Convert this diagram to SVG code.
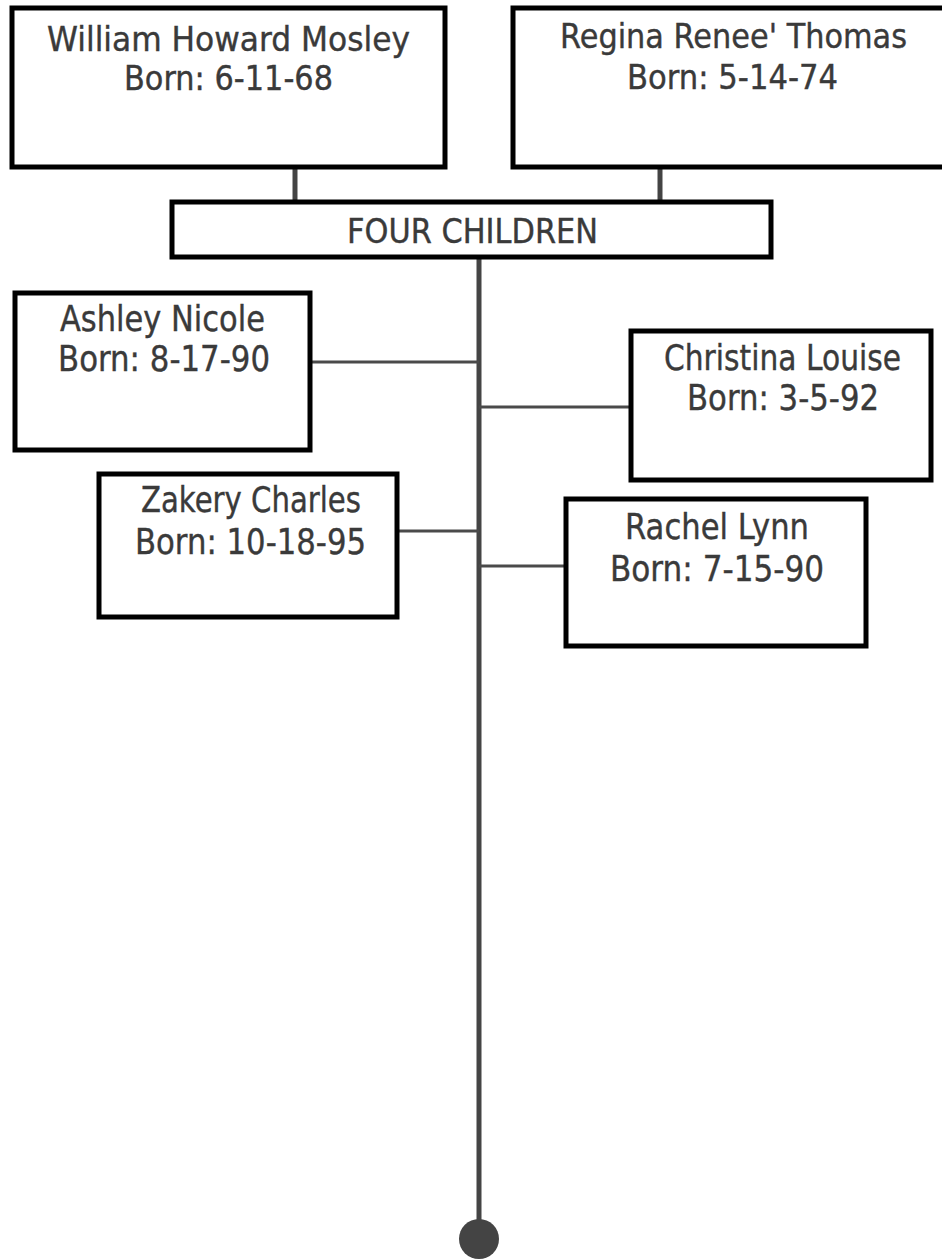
<svg xmlns="http://www.w3.org/2000/svg" width="942" height="1260" viewBox="0 0 942 1260">
  <style>
    .box { fill: #ffffff; stroke: #000000; stroke-width: 5; }
    .lbl { font-family: "DejaVu Sans", "Liberation Sans", sans-serif; font-size: 33px; fill: #3a3a3a; stroke: #3a3a3a; stroke-width: 0.4; }
    .kid { font-size: 35px; }
    .trunk { stroke: #444444; stroke-width: 5; fill: none; }
    .branch { stroke: #4a4a4a; stroke-width: 3; fill: none; }
  </style>
  <rect width="942" height="1260" fill="#ffffff"/>

  <g id="connectors">
    <line class="trunk" x1="295" y1="168" x2="295" y2="201"/>
    <line class="trunk" x1="660" y1="168" x2="660" y2="201"/>
    <line class="trunk" x1="479" y1="258" x2="479" y2="1228"/>
    <circle cx="479" cy="1239" r="20" fill="#444444"/>
    <line class="branch" x1="312" y1="362" x2="479" y2="362"/>
    <line class="branch" x1="479" y1="407" x2="630" y2="407"/>
    <line class="branch" x1="399" y1="531" x2="479" y2="531"/>
    <line class="branch" x1="479" y1="566" x2="565" y2="566"/>
  </g>

  <g id="father">
    <rect class="box" x="12" y="8" width="433" height="159"/>
    <text class="lbl" x="47" y="51" textLength="363" lengthAdjust="spacingAndGlyphs">William Howard Mosley</text>
    <text class="lbl" x="124" y="90" textLength="209" lengthAdjust="spacingAndGlyphs">Born: 6-11-68</text>
  </g>

  <g id="mother">
    <rect class="box" x="513" y="8" width="432" height="159"/>
    <text class="lbl" x="560" y="48" textLength="347" lengthAdjust="spacingAndGlyphs">Regina Renee' Thomas</text>
    <text class="lbl" x="627" y="89" textLength="211" lengthAdjust="spacingAndGlyphs">Born: 5-14-74</text>
  </g>

  <g id="children">
    <rect class="box" x="172" y="202" width="599" height="55"/>
    <text class="lbl" x="347" y="243" textLength="251" lengthAdjust="spacingAndGlyphs">FOUR CHILDREN</text>
  </g>

  <g id="ashley">
    <rect class="box" x="15" y="293" width="295" height="157"/>
    <text class="lbl kid" x="60" y="331" textLength="205" lengthAdjust="spacingAndGlyphs">Ashley Nicole</text>
    <text class="lbl kid" x="58" y="371" textLength="212" lengthAdjust="spacingAndGlyphs">Born: 8-17-90</text>
  </g>

  <g id="christina">
    <rect class="box" x="631" y="331" width="300" height="149"/>
    <text class="lbl kid" x="664" y="370" textLength="237" lengthAdjust="spacingAndGlyphs">Christina Louise</text>
    <text class="lbl kid" x="687" y="410" textLength="192" lengthAdjust="spacingAndGlyphs">Born: 3-5-92</text>
  </g>

  <g id="zakery">
    <rect class="box" x="99" y="474" width="298" height="143"/>
    <text class="lbl kid" x="141" y="512" textLength="220" lengthAdjust="spacingAndGlyphs">Zakery Charles</text>
    <text class="lbl kid" x="135" y="554" textLength="231" lengthAdjust="spacingAndGlyphs">Born: 10-18-95</text>
  </g>

  <g id="rachel">
    <rect class="box" x="566" y="499" width="300" height="147"/>
    <text class="lbl kid" x="625" y="539" textLength="184" lengthAdjust="spacingAndGlyphs">Rachel Lynn</text>
    <text class="lbl kid" x="610" y="581" textLength="214" lengthAdjust="spacingAndGlyphs">Born: 7-15-90</text>
  </g>
</svg>
